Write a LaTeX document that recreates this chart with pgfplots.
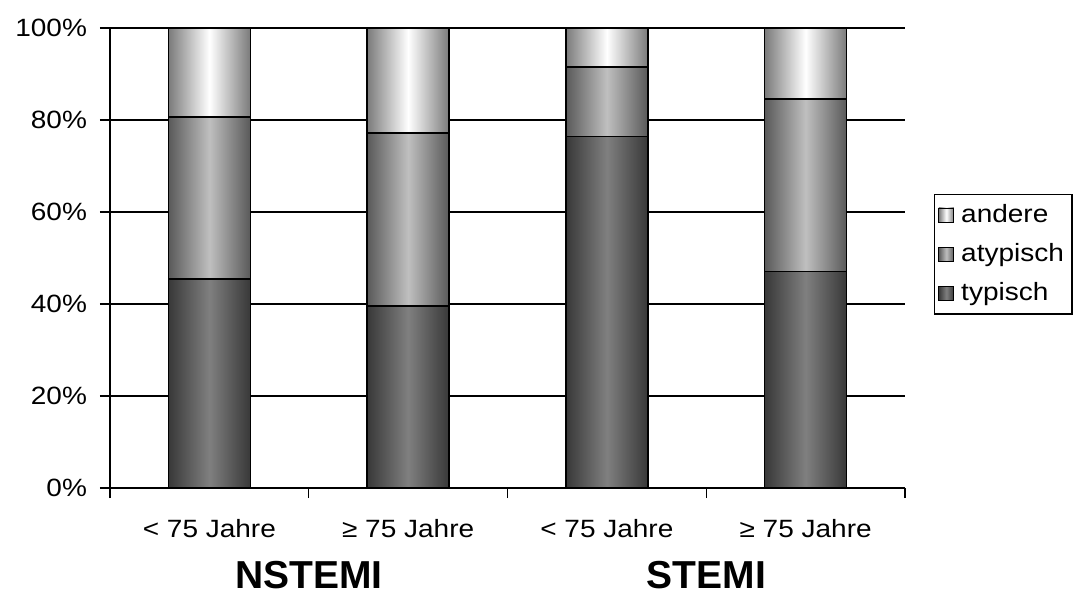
\documentclass[border=0pt]{standalone}
\usepackage{fontspec}
\setmainfont{Liberation Sans}[FakeStretch=1.12]
\newfontfamily\titlefont{Liberation Sans}[BoldFont=Liberation Sans Bold]
\usepackage{pgfplots}
\pgfplotsset{compat=1.18}

% cumulative tops of the segments (percent); each bar is drawn
% from the top segment down so that every segment gets its own shading
\pgfplotsset{
  seg/.style={draw=black, line width=0.8pt},
  typ/.style={seg, left color=black!78, right color=black!78, middle color=black!50},
  atyp/.style={seg, left color=black!65, right color=black!65, middle color=black!25},
  and/.style={seg, left color=black!52, right color=black!52, middle color=white},
}

\begin{document}
\begin{tikzpicture}
\useasboundingbox (-55pt,-53.5pt) rectangle (486pt,244pt);
\begin{axis}[
  scale only axis,
  width=397.5pt, height=230pt,
  xmin=0, xmax=4, ymin=0, ymax=100,
  axis x line*=bottom, axis y line*=left,
  axis line style={line width=0.8pt, -},
  xtick={0,1,2,3,4}, xticklabels={},
  extra x ticks={0.5,1.5,2.5,3.5},
  extra x tick labels={< 75 Jahre, ≥ 75 Jahre, < 75 Jahre, ≥ 75 Jahre},
  extra x tick style={major tick length=0pt, grid=none,
    tick label style={yshift=-12pt}},
  ytick={0,20,40,60,80,100},
  yticklabels={0\%,20\%,40\%,60\%,80\%,100\%},
  tick align=outside, major tick length=5pt,
  tick style={black, line width=0.7pt},
  ymajorgrids, grid style={black, line width=0.6pt},
  tick label style={font=\fontsize{12.5}{14}\selectfont},
  yticklabel style={xshift=-3pt},
  ybar, bar width=41pt, bar shift=0pt,
  clip=false,
  legend style={at={(axis description cs:1.036,0.64)}, anchor=north west,
    draw=black, line width=0.8pt, font=\fontsize{12.5}{14}\selectfont,
    inner xsep=2pt, inner ysep=3pt, row sep=5pt, cells={anchor=west},
    /tikz/every odd column/.append style={column sep=1.5pt}},
  legend image code/.code={\draw[#1, line width=0.4pt] (0pt,-3.5pt) rectangle (7.5pt,3.5pt);},
]
% NSTEMI < 75 Jahre
\addplot[and]  coordinates {(0.5,100)};
\addplot[atyp] coordinates {(0.5,80.7)};
\addplot[typ]  coordinates {(0.5,45.5)};
\legend{andere, atypisch, typisch}
% NSTEMI >= 75 Jahre
\addplot[and, forget plot]  coordinates {(1.5,100)};
\addplot[atyp, forget plot] coordinates {(1.5,77.2)};
\addplot[typ, forget plot]  coordinates {(1.5,39.6)};
% STEMI < 75 Jahre
\addplot[and, forget plot]  coordinates {(2.5,100)};
\addplot[atyp, forget plot] coordinates {(2.5,91.5)};
\addplot[typ, forget plot]  coordinates {(2.5,76.4)};
% STEMI >= 75 Jahre
\addplot[and, forget plot]  coordinates {(3.5,100)};
\addplot[atyp, forget plot] coordinates {(3.5,84.6)};
\addplot[typ, forget plot]  coordinates {(3.5,47.1)};
\node[anchor=north, font=\titlefont\fontsize{19.5}{21}\selectfont\bfseries, yshift=-33pt] at (axis cs:1,0) {NSTEMI};
\node[anchor=north, font=\titlefont\fontsize{19.5}{21}\selectfont\bfseries, yshift=-33pt] at (axis cs:3,0) {STEMI};
\end{axis}
\end{tikzpicture}
\end{document}
